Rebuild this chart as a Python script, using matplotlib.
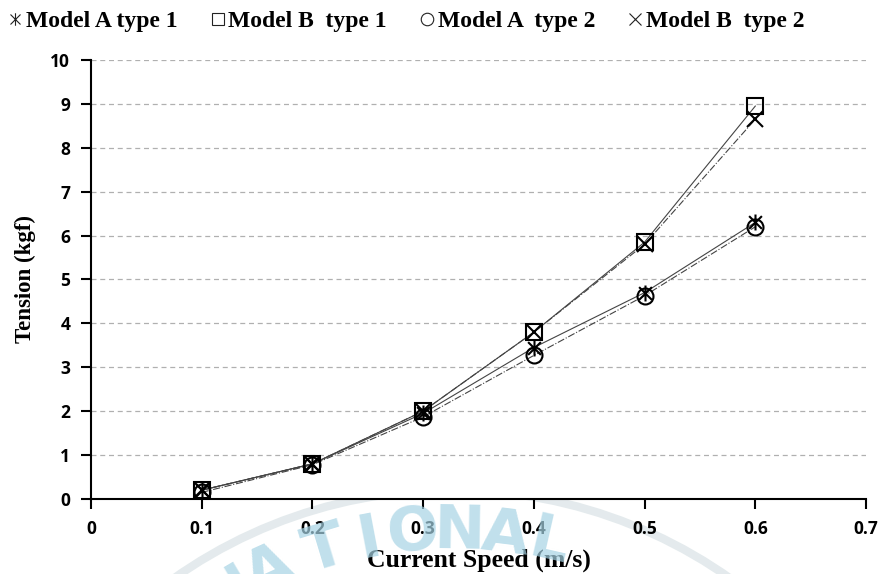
import numpy as np
import matplotlib.pyplot as plt
from matplotlib.path import Path
from matplotlib.lines import Line2D
from matplotlib.patches import Arc

speed = [0.1, 0.2, 0.3, 0.4, 0.5, 0.6]
a_type1 = [0.20, 0.80, 1.95, 3.45, 4.70, 6.30]
b_type1 = [0.20, 0.80, 2.00, 3.80, 5.85, 8.95]
a_type2 = [0.15, 0.78, 1.87, 3.27, 4.63, 6.20]
b_type2 = [0.20, 0.80, 2.00, 3.80, 5.80, 8.65]

labels = ['Model A type 1', 'Model B  type 1', 'Model A  type 2', 'Model B  type 2']
yticks = list(range(0, 11))
xticks = [0, 0.1, 0.2, 0.3, 0.4, 0.5, 0.6, 0.7]

# excel-style star: x with a vertical bar through it
star = Path([(-1, -1), (1, 1), (-1, 1), (1, -1), (0, -1.25), (0, 1.25)],
            [Path.MOVETO, Path.LINETO, Path.MOVETO, Path.LINETO, Path.MOVETO, Path.LINETO])

serif = 'Liberation Serif'

fig = plt.figure(figsize=(8.8, 5.74), dpi=100)
ax = fig.add_axes([0.1034, 0.1307, 0.8807, 0.7648])

series = [
    (a_type1, star, '-'),
    (b_type1, 's', '-'),
    (a_type2, 'o', '-.'),
    (b_type2, 'x', '-.'),
]
handles = []
for vals, mk, ls in series:
    ax.plot(speed, vals, color='#444444', lw=0.8, ls=ls, zorder=3)
    ax.plot(speed, vals, ls='none', marker=mk, ms=11.5, mfc='none', mec='black',
            mew=1.5, zorder=4)
    handles.append(Line2D([], [], ls='none', marker=mk, ms=9, mfc='none',
                          mec='#222222', mew=0.8))

ax.set_xlim(0, 0.7)
ax.set_ylim(0, 10)
ax.set_xticks(xticks)
ax.set_xticklabels(['0'] + ['%.1f' % v for v in xticks[1:]])
ax.set_yticks(yticks)
ax.yaxis.grid(True, ls=(0, (4, 3)), color='#b0b0b0', lw=0.9)
ax.set_axisbelow(True)
for s in ['top', 'right']:
    ax.spines[s].set_visible(False)
for s in ['left', 'bottom']:
    ax.spines[s].set_linewidth(1.5)
ax.tick_params(direction='out', length=7, width=1.5, pad=8, labelsize=12.5)
for lab in ax.get_xticklabels() + ax.get_yticklabels():
    lab.set_fontfamily('Open Sans')
    lab.set_fontweight('bold')

ax.set_xlabel('Current Speed (m/s)', family=serif, weight='bold', fontsize=18.5, labelpad=8)
ax.set_ylabel('Tension (kgf)', family=serif, weight='bold', fontsize=16.5, labelpad=10)

fig.legend(handles, labels, loc='upper left', bbox_to_anchor=(-0.012, 1.01), ncol=4,
           frameon=False, handlelength=0.8, handletextpad=0.05, columnspacing=1.3,
           borderaxespad=0.3, prop={'family': serif, 'weight': 'bold', 'size': 17})

# faint seal watermark across the bottom of the page
wm_color = '#a6d3e4'
cx, cy, r = 452, 972, 440
for ch, ang in zip('NATIONAL', [-30.5, -24.5, -16.8, -10.8, -5.0, 1.0, 7.0, 12.8]):
    t = np.radians(ang)
    px = cx + r * np.sin(t)
    py = cy - r * np.cos(t)
    fig.text(px / 880, 1 - py / 574, ch, color=wm_color, alpha=0.7, fontsize=44,
             family='DejaVu Sans', weight='bold', rotation=-ang,
             ha='center', va='center', zorder=0)
arc = Arc((cx / 880, 1 - cy / 574), 2 * 482 / 880, 2 * 482 / 574, theta1=58, theta2=122,
          transform=fig.transFigure, color='#d2dde1', lw=6, alpha=0.6, zorder=0)
fig.add_artist(arc)

fig.savefig('out.png', dpi=100)
